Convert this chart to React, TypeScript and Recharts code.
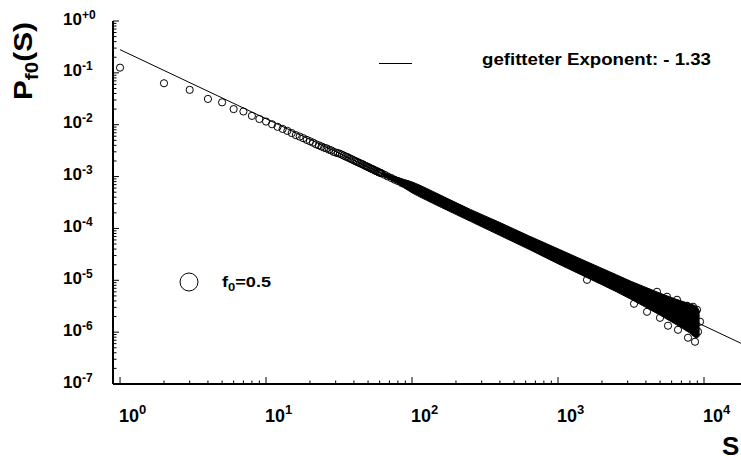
import React from "react";
import { ComposedChart, Area, Scatter, XAxis, YAxis } from "recharts";

// first points, read one by one (S = 1..8)
const headS = [1, 2, 3, 4, 5, 6, 7, 8];
const headP = [0.126, 0.063, 0.047, 0.0314, 0.027, 0.02, 0.018, 0.0148];

// chain of circles before the cloud turns solid
const chainS = [
  9, 10, 11, 12, 13, 14, 15, 16, 17, 18, 19, 20, 21, 22, 23, 24, 25, 26, 27, 28, 29, 30,
  32, 34, 36, 38, 40, 42, 44, 46, 48, 50, 53, 56, 59, 62, 65, 68, 72, 76, 80, 85, 90, 95,
  100, 110, 120, 135,
];
const chainP = [
  0.0129, 0.0115, 0.0102, 0.0091, 0.0083, 0.0076, 0.0069, 0.0063, 0.0059, 0.0055, 0.0051,
  0.0048, 0.0045, 0.0042, 0.004, 0.0038, 0.0036, 0.0035, 0.0033, 0.0032, 0.003, 0.0029,
  2.76e-3, 2.55e-3, 2.38e-3, 2.2e-3, 2.05e-3, 1.93e-3, 1.81e-3, 1.72e-3, 1.61e-3, 1.52e-3,
  1.41e-3, 1.3e-3, 1.21e-3, 1.15e-3, 1.08e-3, 1.01e-3, 9.4e-4, 8.7e-4, 8.2e-4, 7.5e-4,
  7.0e-4, 6.5e-4, 6.1e-4, 5.35e-4, 4.76e-4, 4.07e-4,
];
// the in-between sizes of the same chain
const chainOddS = [31, 33, 35, 37, 39, 41, 43, 45, 47, 49, 51, 52, 54, 55, 57, 58, 60, 61];
const chainOddP = [
  2.84e-3, 2.65e-3, 2.44e-3, 2.28e-3, 2.13e-3, 1.98e-3, 1.86e-3, 1.76e-3, 1.65e-3, 1.57e-3,
  1.49e-3, 1.44e-3, 1.38e-3, 1.34e-3, 1.28e-3, 1.25e-3, 1.2e-3, 1.17e-3,
];

// envelope of the dense (solid black) part of the cloud
const bandS = [63, 79, 100, 126, 158, 251, 398, 631, 1000, 1585, 2512, 3162, 3981, 5012, 6310, 7943, 8913, 9333];
const bandHigh = [
  1.23e-3, 9.65e-4, 7.9e-4, 5.92e-4, 4.34e-4, 2.33e-4, 1.31e-4, 7.2e-5, 4.05e-5, 2.27e-5,
  1.28e-5, 9.56e-6, 7.33e-6, 5.62e-6, 4.4e-6, 3.53e-6, 3.09e-6, 2.47e-6,
];
const bandLow = [
  1.03e-3, 7.4e-4, 4.85e-4, 3.48e-4, 2.55e-4, 1.37e-4, 7.36e-5, 3.96e-5, 2.08e-5, 1.12e-5,
  6.0e-6, 4.3e-6, 3.02e-6, 2.12e-6, 1.45e-6, 9.74e-7, 7.8e-7, 8.52e-7,
];

// stray circles sticking out of the cloud near its end
const strayS = [1580, 3316, 4071, 4764, 4995, 5580, 5668, 6531, 6635, 7647, 7769, 8408, 8678, 8958, 9097, 9389];
const strayP = [
  1.02e-5, 3.53e-6, 2.47e-6, 6.0e-6, 1.89e-6, 4.81e-6, 1.33e-6, 4.21e-6, 1.11e-6, 3.23e-6,
  7.8e-7, 3.09e-6, 6.53e-7, 2.7e-6, 1.02e-6, 1.59e-6,
];

// fitted power law, exponent -1.33
const fitS = [1, 17900];
const fitP = [0.28, 6.1e-7];

const xMajor = [1, 10, 100, 1000, 10000];
const xExp = ["0", "1", "2", "3", "4"];
const yMajor = [1e-7, 1e-6, 1e-5, 1e-4, 1e-3, 1e-2, 1e-1, 1];
const yExp = ["-7", "-6", "-5", "-4", "-3", "-2", "-1", "+0"];

const toPts = (s: number[], p: number[]) => s.map((v, i) => ({ s: v, p: p[i] }));
const headData = toPts(headS, headP);
const chainData = toPts(chainS, chainP).concat(toPts(chainOddS, chainOddP));
const strayData = toPts(strayS, strayP);
const fitData = toPts(fitS, fitP);
const bandData = bandS.map((s, i) => ({ s, band: [bandLow[i], bandHigh[i]] }));

const minors = (majors: number[]) =>
  majors.flatMap((m) => [1, 2, 3, 4, 5, 6, 7, 8, 9].map((k) => m * k));
const xTicks = minors(xMajor).filter((v) => v <= 17900);
const yTicks = minors(yMajor.slice(0, -1)).concat([1]);

const majorIndex = (majors: number[], v: number) =>
  majors.findIndex((m) => Math.abs(v / m - 1) < 1e-6);

const FONT = "'Liberation Sans', Arial, Helvetica, sans-serif";

function Ring(props: any) {
  return <circle cx={props.cx} cy={props.cy} r={3.6} fill="none" stroke="#000" strokeWidth={1} />;
}

function BottomTick({ x, y, payload }: any) {
  const i = majorIndex(xMajor, payload.value);
  const major = i >= 0;
  return (
    <g>
      <line x1={x} x2={x} y1={y} y2={y - (major ? 7 : 3.5)} stroke="#000" />
      {major && (
        <text x={x - 1} y={y + 38} fontFamily={FONT} fontWeight="bold" fontSize={18} fill="#000">
          10
          <tspan dy={-8} fontSize={13}>
            {xExp[i]}
          </tspan>
        </text>
      )}
    </g>
  );
}

function TopTick({ x, y, payload }: any) {
  const major = majorIndex(xMajor, payload.value) >= 0;
  return <line x1={x} x2={x} y1={y} y2={y + (major ? 6 : 3)} stroke="#000" />;
}

function LeftTick({ x, y, payload }: any) {
  const i = majorIndex(yMajor, payload.value);
  const major = i >= 0;
  return (
    <g>
      <line x1={x} x2={x + (major ? 6 : 3.5)} y1={y} y2={y} stroke="#000" />
      {major && (
        <text x={63} y={y + 3.5} fontFamily={FONT} fontWeight="bold" fontSize={17} fill="#000">
          10
          <tspan dy={-6} fontSize={12}>
            {yExp[i]}
          </tspan>
        </text>
      )}
    </g>
  );
}

export default function App() {
  return (
    <div style={{ position: "absolute", left: 0, top: 0, width: 741, height: 460, overflow: "hidden", background: "#fff" }}>
      <ComposedChart
        width={741}
        height={460}
        data={bandData}
        margin={{ top: 21, right: 0, bottom: 46, left: 53 }}
      >
        <XAxis
          xAxisId="b"
          dataKey="s"
          type="number"
          scale="log"
          domain={[0.895, 17920]}
          allowDataOverflow
          ticks={xTicks}
          interval={0}
          tickLine={false}
          tickSize={0}
          tickMargin={0}
          tick={<BottomTick />}
          axisLine={{ stroke: "#000", strokeWidth: 2 }}
          height={30}
        />
        <XAxis
          xAxisId="t"
          orientation="top"
          dataKey="s"
          type="number"
          scale="log"
          domain={[0.895, 17920]}
          allowDataOverflow
          ticks={xTicks}
          interval={0}
          tickLine={false}
          tickSize={0}
          tickMargin={0}
          tick={<TopTick />}
          axisLine={{ stroke: "#000", strokeWidth: 1.5 }}
          height={0}
        />
        <YAxis
          dataKey="p"
          type="number"
          scale="log"
          domain={[1e-7, 1]}
          allowDataOverflow
          ticks={yTicks}
          interval={0}
          tickLine={false}
          tickSize={0}
          tickMargin={0}
          tick={<LeftTick />}
          axisLine={{ stroke: "#000", strokeWidth: 2 }}
          width={60}
        />
        <Scatter
          xAxisId="b"
          data={fitData}
          line={{ stroke: "#000", strokeWidth: 1 }}
          shape={() => <g />}
          isAnimationActive={false}
        />
        <Area
          xAxisId="b"
          dataKey="band"
          type="monotone"
          stroke="#000"
          strokeWidth={1}
          fill="#000"
          fillOpacity={1}
          dot={false}
          activeDot={false}
          isAnimationActive={false}
        />
        <Scatter xAxisId="b" data={headData} shape={<Ring />} isAnimationActive={false} />
        <Scatter xAxisId="b" data={chainData} shape={<Ring />} isAnimationActive={false} />
        <Scatter xAxisId="b" data={strayData} shape={<Ring />} isAnimationActive={false} />
      </ComposedChart>
      <svg
        width={741}
        height={460}
        style={{ position: "absolute", left: 0, top: 0, pointerEvents: "none" }}
        fontFamily={FONT}
        fontWeight="bold"
      >
        <text transform="translate(32,100) rotate(-90)" fontSize={26} textLength={78} lengthAdjust="spacingAndGlyphs">
          P
          <tspan dy={6} fontSize={18}>
            f0
          </tspan>
          <tspan dy={-6} fontSize={26}>
            (S)
          </tspan>
        </text>
        <text x={722} y={455} fontSize={26}>
          S
        </text>
        <line x1={379} x2={412} y1={63.5} y2={63.5} stroke="#000" strokeWidth={1} />
        <text x={482} y={65} fontSize={16} textLength={229} lengthAdjust="spacingAndGlyphs">
          gefitteter Exponent: - 1.33
        </text>
        <circle cx={189} cy={282} r={9} fill="none" stroke="#000" strokeWidth={1} />
        <text x={222} y={287} fontSize={14} textLength={49} lengthAdjust="spacingAndGlyphs">
          f
          <tspan dy={4} fontSize={10}>
            0
          </tspan>
          <tspan dy={-4} fontSize={14}>
            =0.5
          </tspan>
        </text>
      </svg>
    </div>
  );
}
